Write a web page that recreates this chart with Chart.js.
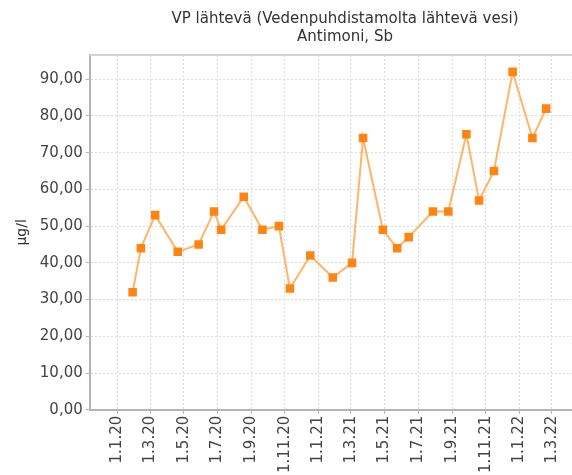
<!DOCTYPE html>
<html>
<head>
<meta charset="utf-8">
<script src="https://cdn.jsdelivr.net/npm/chart.js@4"></script>
<style>
  html, body { margin: 0; padding: 0; background: #fff; overflow: hidden; }
  #wrap { position: absolute; left: 0; top: 0; width: 683px; height: 475px; }
</style>
</head>
<body>
<div id="wrap"><canvas id="chart" width="683" height="475"></canvas></div>
<script>
// sample dates (d.m.yyyy) and values, µg/l
const sampleDates = [
  '29.1.2020', '13.2.2020', '10.3.2020', '20.4.2020', '28.5.2020', '25.6.2020',
  '8.7.2020', '18.8.2020', '21.9.2020', '21.10.2020', '10.11.2020', '17.12.2020',
  '27.1.2021', '3.3.2021', '23.3.2021', '28.4.2021', '24.5.2021', '14.6.2021',
  '28.7.2021', '25.8.2021', '27.9.2021', '20.10.2021', '16.11.2021', '20.12.2021',
  '25.1.2022', '19.2.2022'
];
const antimony = [
  32, 44, 53, 43, 45, 54,
  49, 58, 49, 50, 33, 42,
  36, 40, 74, 49, 44, 47,
  54, 54, 75, 57, 65, 92,
  74, 82
];
const xTickLabels = [
  '1.1.20', '1.3.20', '1.5.20', '1.7.20', '1.9.20', '1.11.20',
  '1.1.21', '1.3.21', '1.5.21', '1.7.21', '1.9.21', '1.11.21',
  '1.1.22', '1.3.22'
];
const yTicks = [0, 10, 20, 30, 40, 50, 60, 70, 80, 90];

// day number from "d.m.yyyy" or "d.m.yy"
const toDay = s => {
  const [d, m, y] = s.split('.').map(Number);
  const year = y < 100 ? 2000 + y : y;
  return Date.UTC(year, m - 1, d) / 86400000;
};
const tickDays = xTickLabels.map(toDay);
const labelByDay = {};
xTickLabels.forEach((l, i) => { labelByDay[tickDays[i]] = l; });

const points = sampleDates.map((d, i) => ({ x: toDay(d), y: antimony[i] }));

const gridColor = '#dcdcdc';
const axisColor = '#b4b4b4';
const tickFont = { family: 'DejaVu Sans', size: 15 };

// grey line along the top of the plot area
const frame = {
  id: 'frame',
  beforeDatasetsDraw(chart) {
    const { ctx, chartArea: a } = chart;
    ctx.save();
    ctx.strokeStyle = '#d2d2d2';
    ctx.lineWidth = 2;
    ctx.beginPath();
    ctx.moveTo(a.left, a.top);
    ctx.lineTo(a.right, a.top);
    ctx.stroke();
    ctx.restore();
  }
};

new Chart(document.getElementById('chart'), {
  type: 'line',
  data: {
    datasets: [{
      label: 'Antimoni, Sb',
      data: points,
      borderColor: '#ffb468',
      borderWidth: 2,
      pointStyle: 'rect',
      pointRadius: 5,
      pointBorderWidth: 1.5,
      pointBackgroundColor: '#ff8512',
      pointBorderColor: '#ff8512',
      tension: 0
    }]
  },
  options: {
    responsive: false,
    animation: false,
    devicePixelRatio: 1,
    layout: { padding: { left: 7, right: 0, top: 0, bottom: 0 } },
    plugins: {
      legend: { display: false },
      tooltip: { enabled: false },
      title: {
        display: true,
        text: ['VP lähtevä (Vedenpuhdistamolta lähtevä vesi)', 'Antimoni, Sb'],
        color: '#333',
        font: { family: 'DejaVu Sans', size: 15, weight: 'normal', lineHeight: 1.2 },
        padding: { top: 10, bottom: 9 }
      }
    },
    scales: {
      x: {
        type: 'linear',
        min: toDay('12.11.2019'),
        max: toDay('14.10.2022'),
        afterBuildTicks: scale => {
          scale.ticks = tickDays.map(v => ({ value: v }));
        },
        ticks: {
          autoSkip: false,
          maxRotation: 90,
          minRotation: 90,
          padding: 2,
          color: '#444',
          font: tickFont,
          callback: v => labelByDay[v] || ''
        },
        grid: {
          color: gridColor,
          tickColor: axisColor,
          tickLength: 4
        },
        border: { color: axisColor, width: 2, dash: [2, 2] }
      },
      y: {
        min: 0,
        max: 96.6,
        afterBuildTicks: scale => {
          scale.ticks = yTicks.map(v => ({ value: v }));
        },
        ticks: {
          padding: 3,
          color: '#444',
          font: tickFont,
          callback: v => v.toFixed(2).replace('.', ',')
        },
        grid: {
          color: gridColor,
          tickColor: axisColor,
          tickLength: 4
        },
        border: { color: axisColor, width: 2, dash: [2, 2] },
        title: {
          display: true,
          text: 'µg/l',
          color: '#333',
          font: { family: 'DejaVu Sans', size: 14 },
          padding: { top: 7, bottom: 6 }
        }
      }
    }
  },
  plugins: [frame]
});
</script>
</body>
</html>
